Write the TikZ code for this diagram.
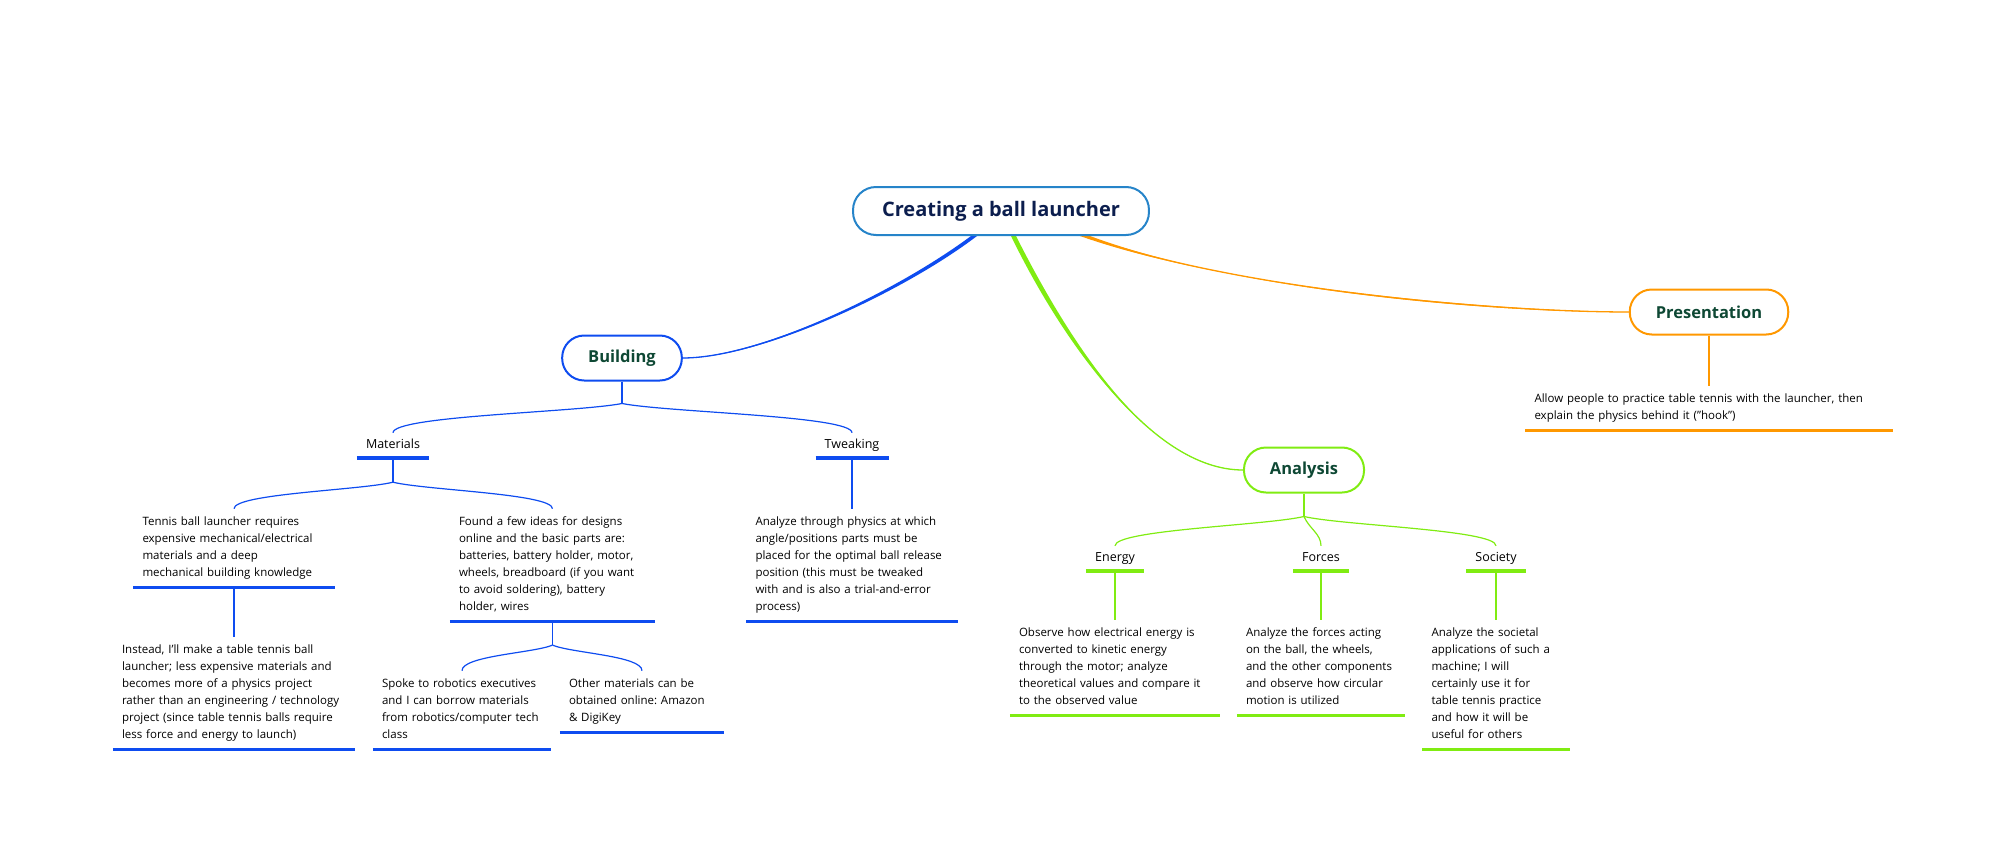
\documentclass[tikz,border=0pt]{standalone}
\usepackage{fontspec}
\setmainfont{Open Sans}
\usetikzlibrary{calc,backgrounds}

\definecolor{rootblue}{RGB}{38,132,201}
\definecolor{rootnavy}{RGB}{12,30,78}
\definecolor{topicgreen}{RGB}{14,72,52}
\definecolor{buildblue}{RGB}{14,76,240}
\definecolor{anagreen}{RGB}{128,236,18}
\definecolor{presorange}{RGB}{255,152,0}

\tikzset{
  rootnode/.style={draw=rootblue,line width=2pt,fill=white,rounded corners=23pt,
    minimum height=48pt,inner xsep=29pt,text=rootnavy,
    font=\fontsize{20}{24}\selectfont\bfseries},
  mainnode/.style={draw=#1,line width=2pt,fill=white,rounded corners=22pt,
    minimum height=45pt,inner xsep=26pt,text=topicgreen,
    font=\fontsize{16.5}{19}\selectfont\bfseries},
  topic/.style={font=\fontsize{12.5}{14}\selectfont,text height=9pt,text depth=3pt,
    inner xsep=9pt,inner ysep=6.5pt},
  leaf/.style={font=\fontsize{11.5}{17}\selectfont,text width=#1,align=left,
    inner xsep=9pt,inner ysep=5pt,anchor=north,
    execute at begin node=\strut,execute at end node=\strut},
  link/.style={line width=1.2pt},
  bar/.style={line width=3pt},
  topicbar/.style={line width=4pt}
}

\begin{document}
\frenchspacing
\begin{tikzpicture}[x=1pt,y=-1pt]
\useasboundingbox (0,0) rectangle (1999,856);

% central topic and main branches
\node[rootnode] (root) at (1001,211) {Creating a ball launcher};
\node[mainnode=buildblue] (building) at (622,358) {Building};
\node[mainnode=anagreen] (analysis) at (1304,470) {Analysis};
\node[mainnode=presorange] (presentation) at (1709,312) {Presentation};

% Building
\node[topic] (materials) at (393,445.5) {Materials};
\node[topic] (tweaking) at (852,445.5) {Tweaking};
\node[leaf=183pt] (tennis) at (234,508.7) {Tennis ball launcher requires\\
  expensive mechanical/electrical\\ materials and a deep\\ mechanical building knowledge};
\node[leaf=224pt] (instead) at (234,636.7) {Instead, I'll make a table tennis ball\\
  launcher; less expensive materials and\\ becomes more of a physics project\\
  rather than an engineering / technology\\ project (since table tennis balls require\\
  less force and energy to launch)};
\node[leaf=187pt] (found) at (552.5,508.7) {Found a few ideas for designs\\
  online and the basic parts are:\\ batteries, battery holder, motor,\\
  wheels, breadboard (if you want\\ to avoid soldering), battery\\ holder, wires};
\node[leaf=160pt] (spoke) at (462,670.7) {Spoke to robotics executives\\
  and I can borrow materials\\ from robotics/computer tech\\ class};
\node[leaf=146pt] (other) at (642,670.7) {Other materials can be\\
  obtained online: Amazon\\ \& DigiKey};
\node[leaf=193pt] (tweakdet) at (852,508.7) {Analyze through physics at which\\
  angle/positions parts must be\\ placed for the optimal ball release\\
  position (this must be tweaked\\ with and is also a trial-and-error\\ process)};

% Analysis
\node[topic] (energy) at (1115,558.5) {Energy};
\node[topic] (forces) at (1321,558.5) {Forces};
\node[topic] (society) at (1496,558.5) {Society};
\node[leaf=192pt] (energydet) at (1115,619.7) {Observe how electrical energy is\\
  converted to kinetic energy\\ through the motor; analyze\\
  theoretical values and compare it\\ to the observed value};
\node[leaf=150pt] (forcesdet) at (1321,619.7) {Analyze the forces acting\\
  on the ball, the wheels,\\ and the other components\\
  and observe how circular\\ motion is utilized};
\node[leaf=129pt] (societydet) at (1496,619.7) {Analyze the societal\\
  applications of such a\\ machine; I will\\ certainly use it for\\
  table tennis practice\\ and how it will be\\ useful for others};

% Presentation
\node[leaf=349pt] (allow) at (1709,385.7) {Allow people to practice table tennis with the launcher, then\\
  explain the physics behind it ("hook")};

% underlines
\draw[topicbar,buildblue] (materials.south west) -- (materials.south east);
\draw[topicbar,buildblue] (tweaking.south west) -- (tweaking.south east);
\foreach \n in {tennis,instead,found,spoke,other,tweakdet}
  \draw[bar,buildblue] (\n.south west) -- (\n.south east);
\foreach \n in {energy,forces,society}
  \draw[topicbar,anagreen] (\n.south west) -- (\n.south east);
\foreach \n in {energydet,forcesdet,societydet}
  \draw[bar,anagreen] (\n.south west) -- (\n.south east);
\draw[bar,presorange] (allow.south west) -- (allow.south east);

\begin{scope}[on background layer]
% tapered main branches
\fill[buildblue] ($(root.south)+(-30,0)$) .. controls +(-74,55) and +(78,-1) .. (building.east)
  .. controls +(78,1) and +(-72,55) .. ($(root.south)+(-24,0)$) -- cycle;
\draw[buildblue,line width=1.3pt] ($(root.south)+(-27,0)$) .. controls +(-74,55) and +(78,0) .. (building.east);
\fill[anagreen] ($(root.south)+(10,0)$) .. controls +(46,95) and +(-95,-1) .. (analysis.west)
  .. controls +(-95,1) and +(48,95) .. ($(root.south)+(15,0)$) -- cycle;
\draw[anagreen,line width=1.3pt] ($(root.south)+(12,0)$) .. controls +(47,95) and +(-95,0) .. (analysis.west);
\fill[presorange] ($(root.south)+(79,0)$) .. controls +(150,53) and +(-130,-1) .. (presentation.west)
  .. controls +(-130,1) and +(150,56) .. ($(root.south)+(89,0)$) -- cycle;
\draw[presorange,line width=1.3pt] ($(root.south)+(84,0)$) .. controls +(150,54) and +(-130,0) .. (presentation.west);

% sub-branches
\draw[link,buildblue] (building.south) -- ++(0,22) coordinate (bJ);
\draw[link,buildblue] (bJ) .. controls +(-47,9) and +(0,-17) .. (materials.north);
\draw[link,buildblue] (bJ) .. controls +(47,9) and +(0,-17) .. (tweaking.north);
\draw[link,buildblue] (materials.south) -- ++(0,24) coordinate (mJ);
\draw[link,buildblue] (mJ) .. controls +(-33,8) and +(0,-15) .. (tennis.north);
\draw[link,buildblue] (mJ) .. controls +(33,8) and +(0,-15) .. (found.north);
\draw[link,buildblue] (tennis.south) -- (instead.north);
\draw[link,buildblue] (found.south) -- ++(0,24) coordinate (fJ);
\draw[link,buildblue] (fJ) .. controls +(-19,8) and +(0,-15) .. (spoke.north);
\draw[link,buildblue] (fJ) .. controls +(19,8) and +(0,-15) .. (other.north);
\draw[link,buildblue] (tweaking.south) -- (tweakdet.north);

\draw[link,anagreen] (analysis.south) -- ++(0,23) coordinate (aJ);
\draw[link,anagreen] (aJ) .. controls +(-39,9) and +(0,-16) .. (energy.north);
\draw[link,anagreen] (aJ) .. controls +(5,12) and +(0,-12) .. (forces.north);
\draw[link,anagreen] (aJ) .. controls +(39,9) and +(0,-16) .. (society.north);
\foreach \n in {energy,forces,society}
  \draw[link,anagreen] (\n.south) -- (\n det.north);

\draw[link,presorange] (presentation.south) -- (allow.north);
\end{scope}
\end{tikzpicture}
\end{document}
